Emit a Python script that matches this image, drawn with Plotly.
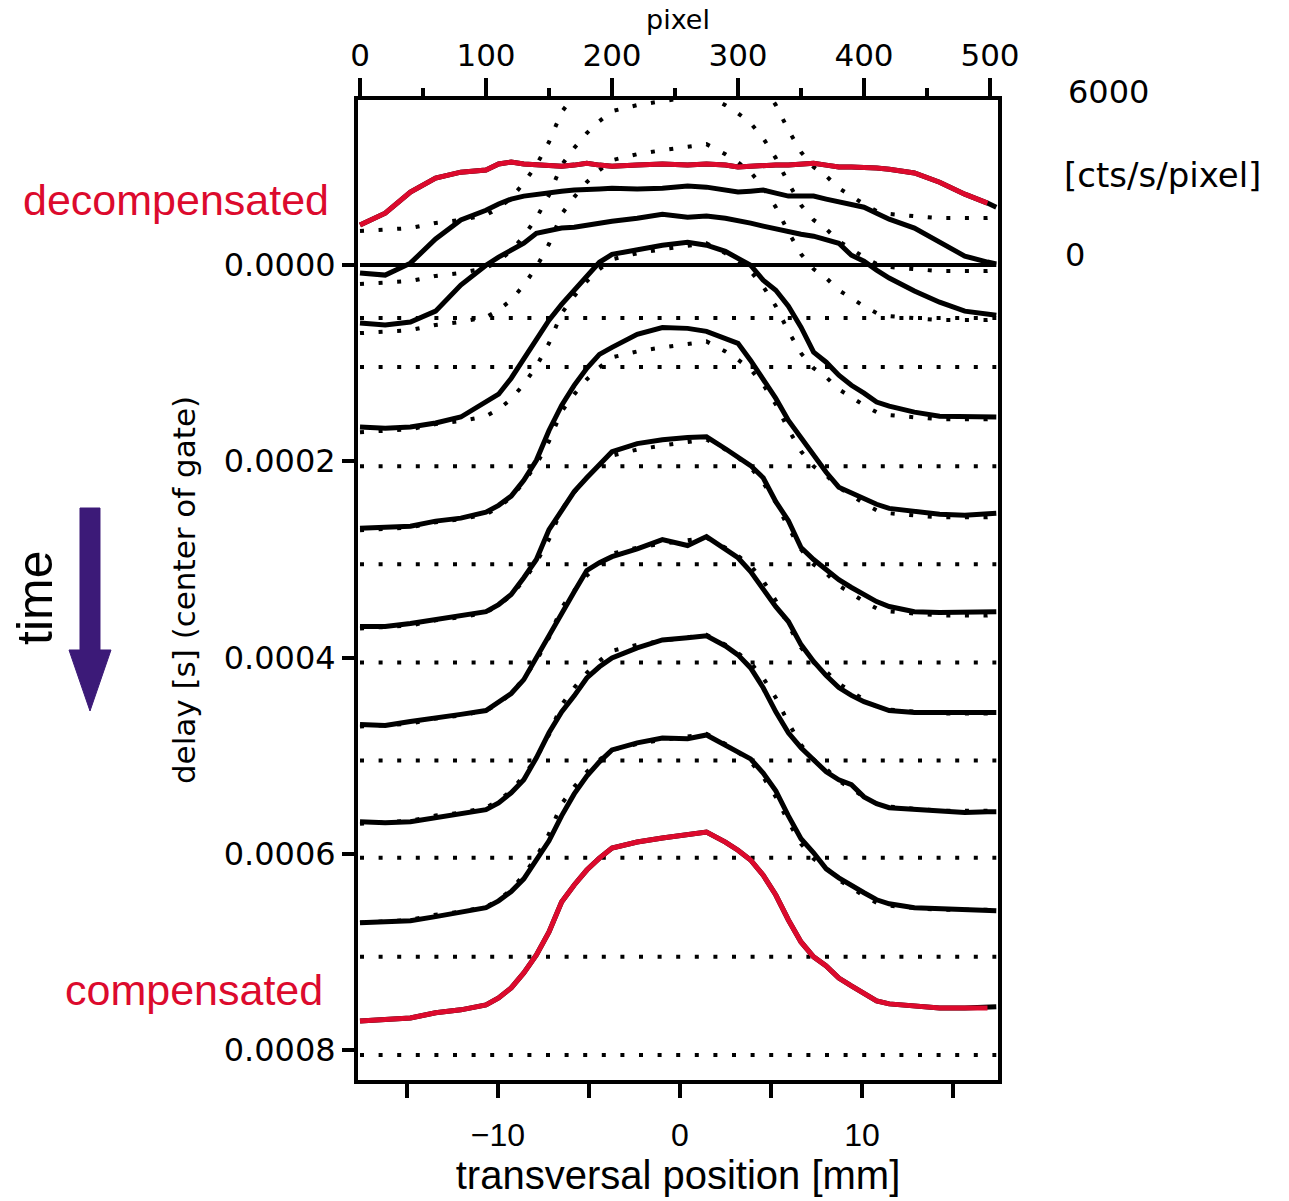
import plotly.graph_objects as go

# ---------------- data ----------------
# detector pixel positions of the samples (top axis)
pixel = [0, 20, 40, 60, 80, 100, 110, 120, 130, 140, 150, 160, 170, 180, 190, 200,
         220, 240, 260, 275, 290, 300, 310, 320, 330, 340, 350, 360, 370, 380, 390,
         400, 410, 420, 440, 460, 480, 498, 505]

# delay (centre of gate) of every profile [s]
delay = [0.0, 0.000054, 0.000104, 0.000205, 0.000305, 0.000405, 0.000505,
         0.000604, 0.000705, 0.000805]

# intensity profiles [cts/s/pixel]
cts_decompensated = [1470, 1910, 2690, 3200, 3420, 3500, 3720, 3790, 3720, 3680, 3680, 3640, 3680,
                     3750, 3680, 3640, 3680, 3720, 3680, 3720, 3680, 3610, 3640, 3680, 3680, 3680,
                     3720, 3750, 3680, 3610, 3610, 3610, 3570, 3530, 3390, 3050, 2610, 2280, 2130]
cts_t1 = [1660, 1580, 2020, 2910, 3610, 3970, 4200, 4380, 4490, 4560, 4640, 4670, 4710, 4710,
          4750, 4780, 4750, 4780, 4860, 4820, 4710, 4640, 4670, 4710, 4600, 4490, 4490, 4490,
          4380, 4270, 4160, 4080, 3860, 3640, 3310, 2800, 2280, 2060, 1990]
cts_t2 = [1620, 1550, 1660, 2060, 3020, 3750, 4050, 4310, 4560, 4930, 5040, 5120, 5150, 5230,
          5300, 5370, 5480, 5630, 5520, 5560, 5480, 5410, 5300, 5190, 5080, 4970, 4890, 4820,
          4710, 4560, 4120, 3900, 3570, 3280, 2800, 2390, 2060, 1950, 1910]
cts_t3 = [1440, 1400, 1440, 1590, 1810, 2390, 2650, 3240, 3980, 4710, 5380, 5960, 6480, 6960,
          7510, 7800, 7990, 8140, 8250, 8140, 7910, 7660, 7400, 6850, 6480, 5890, 5120, 4200,
          3830, 3350, 2980, 2690, 2360, 2210, 1990, 1840, 1810, 1810, 1810]
cts_t4 = [1330, 1360, 1400, 1590, 1700, 1920, 2170, 2510, 3090, 3830, 4930, 5850, 6590, 7220,
          7730, 7990, 8470, 8720, 8690, 8580, 8320, 8140, 7510, 6850, 6110, 5300, 4640, 3980,
          3390, 2840, 2620, 2390, 2210, 2060, 1950, 1840, 1810, 1840, 1880]
cts_t5 = [1320, 1320, 1430, 1580, 1690, 1870, 2130, 2500, 3120, 3790, 4890, 5630, 6290, 6800,
          7280, 7760, 8060, 8200, 8280, 8310, 7870, 7580, 7250, 6800, 5920, 5220, 4230, 3790,
          3420, 3050, 2760, 2500, 2240, 2060, 1870, 1840, 1840, 1870, 1870]
cts_t6 = [1330, 1290, 1440, 1590, 1700, 1840, 2140, 2470, 2980, 3790, 4600, 5490, 6220, 7000,
          7290, 7510, 7800, 8140, 7920, 8250, 7800, 7470, 6960, 6300, 5670, 5120, 4270, 3650,
          3130, 2690, 2400, 2170, 1990, 1840, 1770, 1770, 1770, 1770, 1770]
cts_t7 = [1320, 1290, 1320, 1470, 1620, 1770, 2020, 2390, 2870, 3680, 4600, 5370, 5960, 6620,
          7030, 7360, 7730, 8020, 8100, 8170, 7800, 7470, 6990, 6260, 5370, 4600, 4050, 3610,
          3160, 2870, 2690, 2240, 1990, 1840, 1770, 1690, 1660, 1690, 1690]
cts_t8 = [1250, 1290, 1330, 1480, 1660, 1810, 2060, 2400, 2870, 3540, 4270, 5190, 6000, 6660,
          7180, 7620, 7880, 8060, 8030, 8170, 7800, 7550, 7290, 6770, 6110, 5190, 4350, 3830,
          3240, 2910, 2620, 2360, 2100, 1950, 1810, 1770, 1730, 1700, 1700]
cts_compensated = [1250, 1320, 1360, 1550, 1660, 1840, 2100, 2470, 3020, 3680, 4530, 5630, 6260,
                   6810, 7250, 7620, 7840, 7990, 8100, 8210, 7840, 7540, 7180, 6620, 5890, 4970,
                   4160, 3610, 3280, 2830, 2540, 2240, 1990, 1880, 1800, 1730, 1730, 1730, 1770]

profiles = [cts_decompensated, cts_t1, cts_t2, cts_t3, cts_t4, cts_t5, cts_t6, cts_t7, cts_t8,
            cts_compensated]
red_profiles = [0, 9]
red_end_pixel = 498

# intensity scale shown on the right: 6000 cts/s/pixel spans this much delay
scale_counts = 6000
scale_delay = 0.000166

# axis tick labels
delay_ticks = [0.0, 0.0002, 0.0004, 0.0006, 0.0008]
delay_ticktext = ["0.0000", "0.0002", "0.0004", "0.0006", "0.0008"]
mm_ticks = [-15, -10, -5, 0, 5, 10, 15]
mm_ticktext = ["", "\u221210", "", "0", "", "10", ""]

# ---------------- styling ----------------
RED = "#dc0a2d"
PURPLE = "#3c1a78"
IDL = "DejaVu Sans"
ARIAL = "Liberation Sans"
DOT = "4px,14.6px"


def to_y(d, cts):
    return [d - c * scale_delay / scale_counts for c in cts]


fig = go.Figure()

# dummy trace so the bottom (mm) axis subplot exists
fig.add_trace(go.Scatter(x=[0], y=[0], xaxis="x", yaxis="y", mode="markers",
                         marker=dict(opacity=0), hoverinfo="skip", showlegend=False))

# dotted zero lines of each profile
for d in delay[1:]:
    fig.add_trace(go.Scatter(x=[pixel[0], pixel[-1]], y=[d, d], xaxis="x2", yaxis="y",
                             mode="lines", line=dict(color="black", width=4, dash=DOT),
                             hoverinfo="skip", showlegend=False))

# dotted reference (compensated) profile drawn at each delay
for d in delay[:-1]:
    fig.add_trace(go.Scatter(x=pixel, y=to_y(d, cts_compensated), xaxis="x2", yaxis="y",
                             mode="lines", line=dict(color="black", width=4, dash=DOT),
                             hoverinfo="skip", showlegend=False))

# measured profiles (solid)
for d, cts in zip(delay, profiles):
    fig.add_trace(go.Scatter(x=pixel, y=to_y(d, cts), xaxis="x2", yaxis="y",
                             mode="lines", line=dict(color="black", width=5),
                             showlegend=False))

# red highlights: decompensated / compensated
for i in red_profiles:
    xs = [p for p in pixel if p <= red_end_pixel]
    ys = to_y(delay[i], profiles[i])[:len(xs)]
    fig.add_trace(go.Scatter(x=xs, y=ys, xaxis="x2", yaxis="y", mode="lines",
                             line=dict(color=RED, width=5), showlegend=False))

# solid zero line of the intensity scale
fig.add_trace(go.Scatter(x=[pixel[0], pixel[-1]], y=[delay[0], delay[0]], xaxis="x2", yaxis="y",
                         mode="lines", line=dict(color="black", width=4),
                         hoverinfo="skip", showlegend=False))

# plot area: x 358..998 px, y 100..1080 px
L, R, T, B = 358, 998, 100, 1080
fig.update_layout(
    width=1289, height=1201,
    margin=dict(l=L, r=1289 - R, t=T, b=1201 - B, autoexpand=False),
    paper_bgcolor="white", plot_bgcolor="white",
    showlegend=False,
    xaxis=dict(range=[(L - 680) / 18.2, (R - 680) / 18.2], tickmode="array",
               tickvals=mm_ticks, ticktext=mm_ticktext, ticks="outside", ticklen=14,
               tickwidth=4, tickcolor="black", showline=True, linewidth=4, linecolor="black",
               showgrid=False, zeroline=False, ticklabelstandoff=10, automargin=False,
               tickfont=dict(family=ARIAL, size=32, color="black"),
               title=dict(text="transversal position [mm]", standoff=8,
                          font=dict(family=ARIAL, size=40, color="black"))),
    xaxis2=dict(overlaying="x", side="top", range=[(L - 360) / 1.26, (R - 360) / 1.26],
                tickmode="linear", tick0=0, dtick=100, ticks="outside", ticklen=18, tickwidth=4,
                tickcolor="black", showline=True, linewidth=4, linecolor="black",
                showgrid=False, zeroline=False, automargin=False,
                minor=dict(dtick=50, ticks="outside", ticklen=8, tickwidth=4, tickcolor="black",
                           showgrid=False),
                tickfont=dict(family=IDL, size=31, color="black"),
                title=dict(text="pixel", standoff=0, font=dict(family=IDL, size=27, color="black"))),
    yaxis=dict(range=[(B - 265) / 981250, (T - 265) / 981250], tickmode="array",
               tickvals=delay_ticks, ticktext=delay_ticktext, ticks="outside", ticklen=12,
               tickwidth=4, tickcolor="black", showline=True, linewidth=4, linecolor="black",
               mirror=True, showgrid=False, zeroline=False, automargin=False,
               tickfont=dict(family=IDL, size=32, color="black"),
               title=dict(text="delay [s] (center of gate)", standoff=20,
                          font=dict(family=IDL, size=31, color="black"))),
)

W = R - L
H = B - T


def px(xp):
    return (xp - L) / W


def py(yp):
    return (B - yp) / H


annotations = [
    dict(text="decompensated", x=px(331), y=py(200), xanchor="right", yanchor="middle",
         font=dict(family=ARIAL, size=43, color=RED)),
    dict(text="compensated", x=px(325), y=py(990), xanchor="right", yanchor="middle",
         font=dict(family=ARIAL, size=43, color=RED)),
    dict(text="time", x=px(35), y=py(598), xanchor="center", yanchor="middle", textangle=-90,
         font=dict(family=ARIAL, size=50, color="black")),
    dict(text="6000", x=px(1066), y=py(92), xanchor="left", yanchor="middle",
         font=dict(family=IDL, size=32, color="black")),
    dict(text="[cts/s/pixel]", x=px(1062), y=py(175), xanchor="left", yanchor="middle",
         font=dict(family=IDL, size=34, color="black")),
    dict(text="0", x=px(1063), y=py(255), xanchor="left", yanchor="middle",
         font=dict(family=IDL, size=32, color="black")),
]
for a in annotations:
    a.update(xref="paper", yref="paper", showarrow=False)
fig.update_layout(annotations=annotations)

# "time" arrow
arrow = [(80, 508), (100, 508), (100, 650), (111, 650), (90, 711), (69, 650), (80, 650)]
path = "M " + " L ".join(f"{px(a):.5f},{py(b):.5f}" for a, b in arrow) + " Z"
fig.add_shape(type="path", path=path, xref="paper", yref="paper",
              fillcolor=PURPLE, line=dict(color=PURPLE, width=1))

fig.write_html("out.html")
